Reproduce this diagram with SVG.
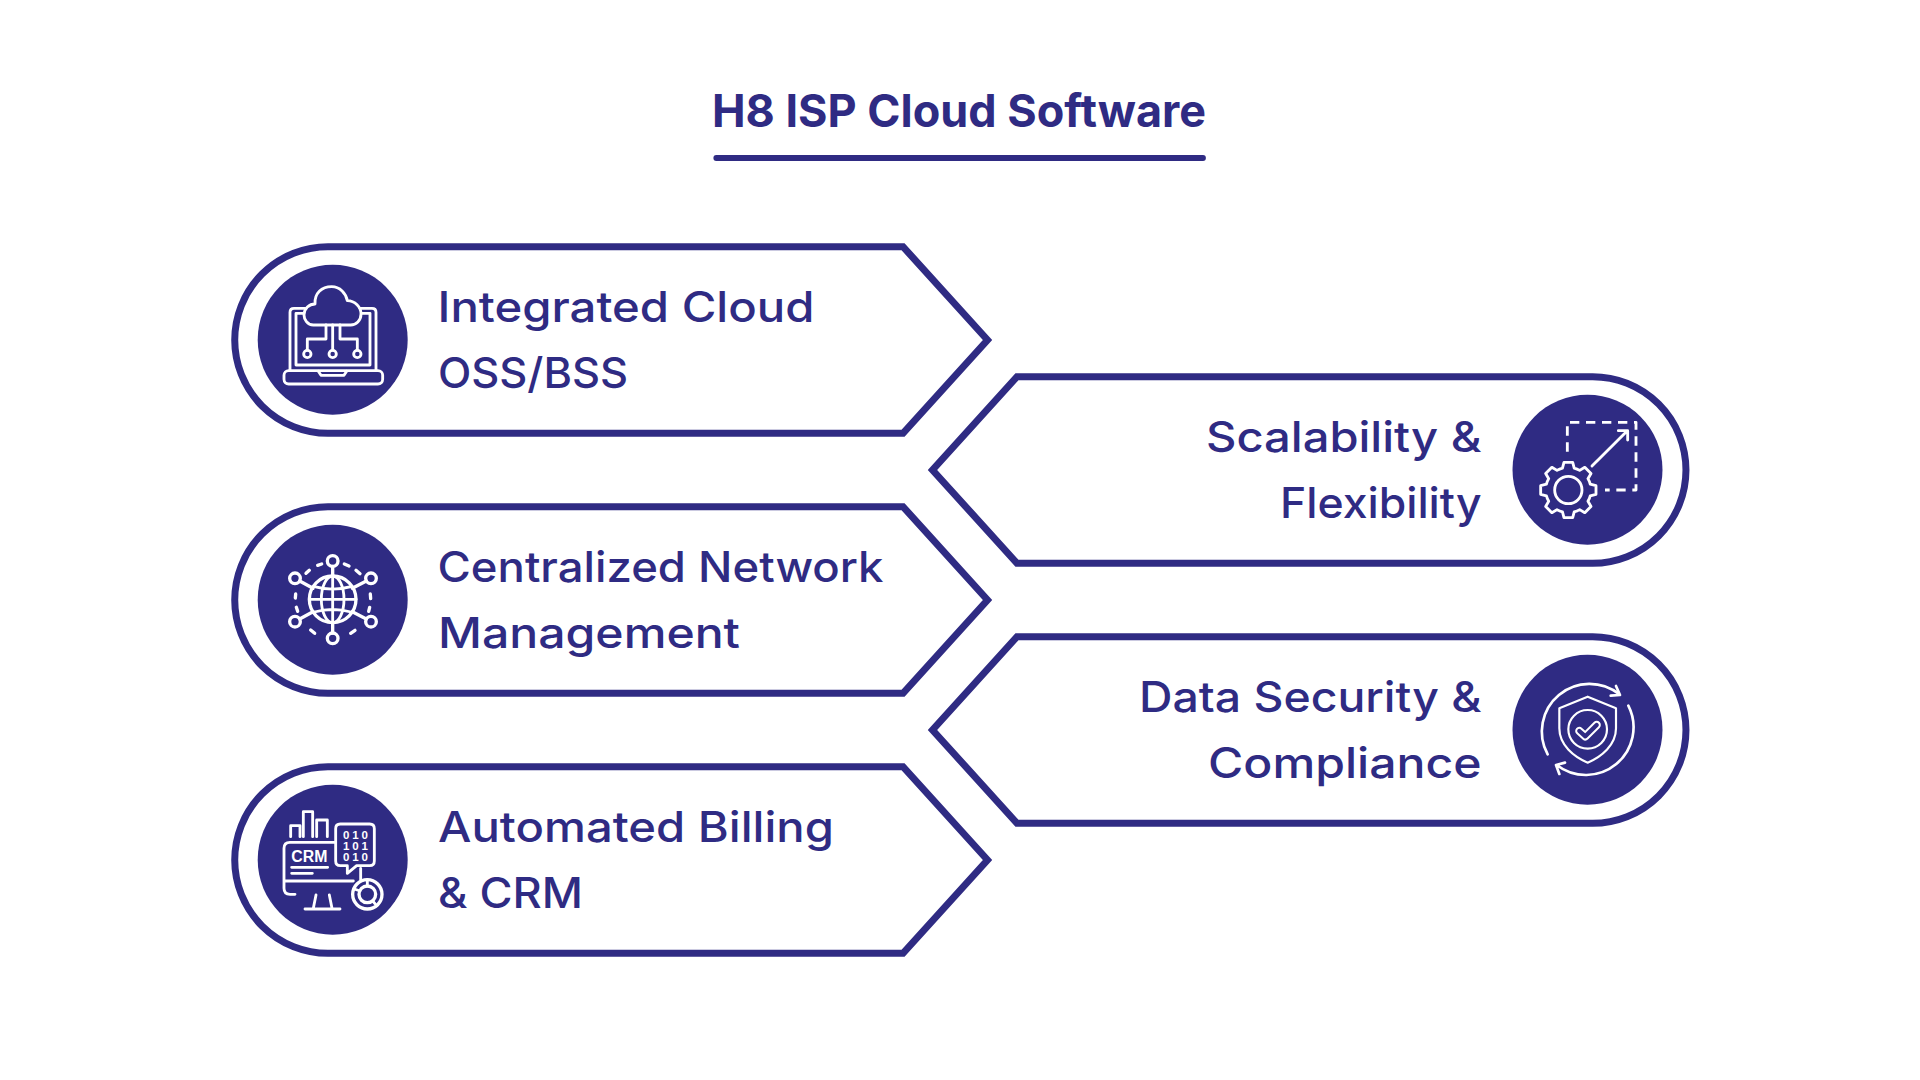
<svg xmlns="http://www.w3.org/2000/svg" width="1920" height="1080" viewBox="0 0 1920 1080">
<style>
.b{fill:#fff;stroke:#2f2b83;stroke-width:7;stroke-linejoin:miter}
.c{fill:#2f2b83}
.t{font-family:"Inter","Noto Sans",sans-serif;font-weight:500;font-size:42.5px;fill:#2f2b83}
.h{font-family:"Inter","Noto Sans",sans-serif;font-weight:700;font-size:45px;fill:#2f2b83}
.i{fill:none;stroke:#fff;stroke-width:8.5;stroke-linecap:round;stroke-linejoin:round}
.d{font-family:"Liberation Sans",sans-serif;font-weight:700;fill:#fff}
</style>
<defs>
<path id="bl" d="M903 -93.3H328A93.3 93.3 0 0 0 328 93.3H903L987.5 0Z"/>
<path id="br" d="M1017 -93.3H1592.7A93.3 93.3 0 0 1 1592.7 93.3H1017L932.5 0Z"/>
</defs>
<rect width="1920" height="1080" fill="#fff"/>
<g id="title">
<text class="h" x="712" y="127" textLength="494" lengthAdjust="spacingAndGlyphs">H8 ISP Cloud Software</text>
<line x1="716.3" y1="158" x2="1203" y2="158" stroke="#2f2b83" stroke-width="5.8" stroke-linecap="round"/>
</g>
<g id="node-integrated-cloud">
<use href="#bl" class="b" y="340"/>
<circle class="c" cx="332.7" cy="339.7" r="75"/>
<g class="i" transform="translate(220,230) scale(.33333)">
<path d="M255 235H222Q210 235 210 247V420M420 235H456Q468 235 468 247V420"/>
<path d="M250 250H228V405H450V250H425"/>
<rect x="192" y="422" width="296" height="40" rx="14"/>
<path d="M295 424L303 436H372L380 424"/>
<path d="M280 285C262 285 252 268 252 255C252 235 268 222 285 222C283 190 305 170 335 170C360 170 378 190 382 212C405 212 423 232 423 252C423 272 408 285 392 285Z"/>
<path d="M338 285V360M318 285V327H262V360M360 285V327H412V360"/>
<circle cx="338" cy="372" r="11"/><circle cx="262" cy="372" r="11"/><circle cx="412" cy="372" r="11"/>
</g>
<text class="t" x="437.5" y="321.7" textLength="377" lengthAdjust="spacingAndGlyphs">Integrated Cloud</text>
<text class="t" x="438" y="387.7" textLength="190" lengthAdjust="spacingAndGlyphs">OSS/BSS</text>
</g>
<g id="node-centralized-network">
<use href="#bl" class="b" y="600"/>
<circle class="c" cx="332.7" cy="599.7" r="75"/>
<g class="i" transform="translate(220,490) scale(.33333)">
<circle cx="338" cy="328" r="70" stroke-width="10"/>
<ellipse cx="338" cy="328" rx="34" ry="70"/>
<path d="M338 258V398M268 328H408M283 290Q338 305 393 290M283 366Q338 351 393 366"/>
<g stroke-width="10">
<circle cx="338" cy="213" r="16"/><circle cx="338" cy="445" r="16"/>
<circle cx="225" cy="265" r="16"/><circle cx="453" cy="265" r="16"/>
<circle cx="225" cy="395" r="16"/><circle cx="453" cy="395" r="16"/>
<path d="M338 229V258M338 398V429M239 273L279 295M439 273L397 295M239 387L279 365M439 387L397 365"/>
<path d="M258 250L268 241M293 226L305 222M373 222L387 228M408 241L420 251M227 312L226 324M451 312L452 326M229 352L233 364M449 352L446 364M272 420L284 430M392 430L405 421"/>
</g>
</g>
<text class="t" x="437.5" y="581.7" textLength="446" lengthAdjust="spacingAndGlyphs">Centralized Network</text>
<text class="t" x="438" y="647.7" textLength="302" lengthAdjust="spacingAndGlyphs">Management</text>
</g>
<g id="node-automated-billing">
<use href="#bl" class="b" y="860"/>
<circle class="c" cx="332.7" cy="859.7" r="75"/>
<g class="i" transform="translate(220,755) scale(.33333)">
<path d="M212 245V212H240V245M250 245V170H278V245M290 245V195H322V245"/>
<path d="M345 262H210Q192 262 192 280V400Q192 418 210 418H225M195 378H400M422 340V375"/>
<path d="M288 420L280 460M328 420L336 460M255 462H360"/>
<path d="M361 207H449Q463 207 463 221V318Q463 332 449 332H410L382 355V332H361Q347 332 347 318V221Q347 207 361 207Z"/>
<path d="M215 337H323M215 355H277"/>
<circle cx="442" cy="418" r="44" stroke-width="10"/><circle cx="442" cy="418" r="25" stroke-width="10"/>
<path d="M442 374V393M403 402L420 408M470 452L458 438"/>
</g>
<g class="d">
<text x="291.3" y="861.5" font-size="16" textLength="36" lengthAdjust="spacingAndGlyphs">CRM</text>
<text x="343" y="838.6" font-size="11.5" textLength="25">010</text>
<text x="343" y="850" font-size="11.5" textLength="25">101</text>
<text x="343" y="861.4" font-size="11.5" textLength="25">010</text>
</g>
<text class="t" x="438" y="841.7" textLength="396" lengthAdjust="spacingAndGlyphs">Automated Billing</text>
<text class="t" x="438" y="907.7" textLength="145" lengthAdjust="spacingAndGlyphs">&amp; CRM</text>
</g>
<g id="node-scalability">
<use href="#br" class="b" y="470"/>
<circle class="c" cx="1587.5" cy="469.7" r="75"/>
<g class="i" transform="translate(1490,360) scale(.33333)">
<path d="M232 275V187H438V390H345" stroke-dasharray="28 20" stroke-linecap="butt"/>
<path d="M306 318L412 212M385 212H413V240"/>
<circle cx="235" cy="390" r="41"/>
<path transform="translate(235,390)" d="M65.7 -17.6L83 -13.1V13.1L65.7 17.6A68 68 0 0 1 58.9 34L68 49.4L49.4 68L34 58.9A68 68 0 0 1 17.6 65.7L13.1 83H-13.1L-17.6 65.7A68 68 0 0 1 -34 58.9L-49.4 68L-68 49.4L-58.9 34A68 68 0 0 1 -65.7 17.6L-83 13.1V-13.1L-65.7 -17.6A68 68 0 0 1 -58.9 -34L-68 -49.4L-49.4 -68L-34 -58.9A68 68 0 0 1 -17.6 -65.7L-13.1 -83H13.1L17.6 -65.7A68 68 0 0 1 34 -58.9L49.4 -68L68 -49.4L58.9 -34A68 68 0 0 1 65.7 -17.6Z"/>
</g>
<text class="t" x="1206" y="451.7" textLength="275.5" lengthAdjust="spacingAndGlyphs">Scalability &amp;</text>
<text class="t" x="1280" y="518" textLength="201.5" lengthAdjust="spacingAndGlyphs">Flexibility</text>
</g>
<g id="node-data-security">
<use href="#br" class="b" y="730"/>
<circle class="c" cx="1587.5" cy="729.7" r="75"/>
<g class="i" transform="translate(1490,625) scale(.33333)">
<path d="M173 388A143 143 0 0 1 388 208M378 183L390 210L362 212" stroke-width="8"/>
<path d="M415 242A143 143 0 0 1 200 420M225 413L198 420L208 447" stroke-width="8"/>
<path d="M293 215L378 250V310C378 360 335 395 293 413C251 395 208 360 208 310V250Z" stroke-width="6.5"/>
<circle cx="293" cy="313" r="58" stroke-width="6.5"/>
<path d="M268 318L286 334L320 300" stroke-width="25"/>
<path d="M268 318L286 334L320 300" stroke="#2f2b83" stroke-width="13"/>
</g>
<text class="t" x="1139" y="711.7" textLength="342.5" lengthAdjust="spacingAndGlyphs">Data Security &amp;</text>
<text class="t" x="1208" y="778" textLength="273.5" lengthAdjust="spacingAndGlyphs">Compliance</text>
</g>
<g id="connectors"></g>
</svg>
